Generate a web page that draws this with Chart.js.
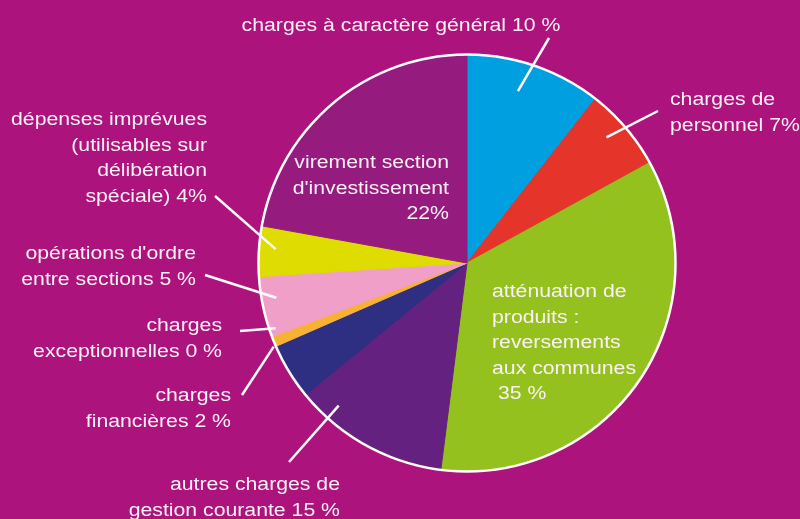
<!DOCTYPE html>
<html>
<head>
<meta charset="utf-8">
<script src="https://cdn.jsdelivr.net/npm/chart.js@4/dist/chart.umd.min.js"></script>
<style>
  body { margin: 0; background: #ad137c; }
  canvas { display: block; }
</style>
</head>
<body>
<canvas id="budget" width="800" height="519"></canvas>
<script>
// categories, clockwise from the top
const categories = [
  "charges à caractère général",
  "charges de personnel",
  "atténuation de produits : reversements aux communes",
  "autres charges de gestion courante",
  "charges financières",
  "charges exceptionnelles",
  "opérations d'ordre entre sections",
  "dépenses imprévues",
  "virement section d'investissement"
];
// slice sizes (%)
const shares = [10.55, 6.45, 35.0, 12.1, 4.35, 0.8, 4.7, 3.9, 22.15];
const sliceColors = [
  "#009fe0", "#e5342a", "#95c11f", "#65217f", "#2e2e82",
  "#f7b233", "#f0a0c8", "#dedc00", "#951b7e"
];
// the text printed for each slice
const sliceText = [
  ["charges à caractère général 10 %"],
  ["charges de", "personnel 7%"],
  ["atténuation de", "produits :", "reversements", "aux communes", " 35 %"],
  ["autres charges de", "gestion courante 15 %"],
  ["charges", "financières 2 %"],
  ["charges", "exceptionnelles 0 %"],
  ["opérations d'ordre", "entre sections 5 %"],
  ["dépenses imprévues", "(utilisables sur", "délibération", "spéciale) 4%"],
  ["virement section", "d'investissement", "22%"]
];

// where each label goes, and its leader line (r = fraction of radius, shift = degrees)
const labelLayout = [
  { x: 401, y: 31, align: "center", line: { r: 0.86, shift: -2.5, to: [549, 38] } },
  { x: 670, y: 105, align: "left", line: { r: 0.90, shift: -1.6, to: [658, 111] } },
  { x: 492, y: 297, align: "left" },
  { x: 340, y: 490, align: "right", line: { r: 0.92, shift: 13, to: [289, 462] } },
  { x: 231, y: 401, align: "right", line: { r: 1.01, shift: 8, to: [242, 395] } },
  { x: 222, y: 331, align: "right", line: { r: 0.97, shift: 3.3, to: [240, 331] } },
  { x: 196, y: 259, align: "right", line: { r: 0.93, shift: 1.9, to: [205, 275] } },
  { x: 207, y: 125, align: "right", line: { r: 0.92, shift: 0.9, to: [215, 196] } },
  { x: 449, y: 168, align: "right" }
];
const textColor = "#fbf0f7";

const sliceLabels = {
  id: "sliceLabels",
  afterDatasetsDraw(chart) {
    const ctx = chart.ctx;
    const arcs = chart.getDatasetMeta(0).data;
    const first = arcs[0];
    ctx.save();
    // white rim round the pie
    ctx.strokeStyle = "#ffffff";
    ctx.lineWidth = 2.5;
    ctx.beginPath();
    ctx.arc(first.x, first.y, first.outerRadius, 0, Math.PI * 2);
    ctx.stroke();

    labelLayout.forEach((lab, i) => {
      const arc = arcs[i];
      if (lab.line) {
        const ang = (arc.startAngle + arc.endAngle) / 2 + lab.line.shift * Math.PI / 180;
        const r = arc.outerRadius * lab.line.r;
        ctx.beginPath();
        ctx.moveTo(arc.x + Math.cos(ang) * r, arc.y + Math.sin(ang) * r);
        ctx.lineTo(lab.line.to[0], lab.line.to[1]);
        ctx.stroke();
      }
      ctx.fillStyle = textColor;
      ctx.font = '18px "Liberation Sans", Arial, sans-serif';
      ctx.textAlign = lab.align;
      ctx.textBaseline = "alphabetic";
      sliceText[i].forEach((t, k) => {
        ctx.save();
        ctx.translate(lab.x, lab.y + k * 25.5);
        ctx.scale(1.18, 1);
        ctx.fillText(t, 0, 0);
        ctx.restore();
      });
    });
    ctx.restore();
  }
};

new Chart(document.getElementById("budget"), {
  type: "pie",
  data: {
    labels: categories,
    datasets: [
      {
        data: shares,
        backgroundColor: sliceColors,
        borderColor: sliceColors,
        borderWidth: 1
      }
    ]
  },
  options: {
    responsive: false,
    animation: false,
    layout: {
      padding: { left: 258, right: 124, top: 54, bottom: 47 }
    },
    plugins: {
      legend: { display: false },
      tooltip: { enabled: false }
    }
  },
  plugins: [sliceLabels]
});
</script>
</body>
</html>
